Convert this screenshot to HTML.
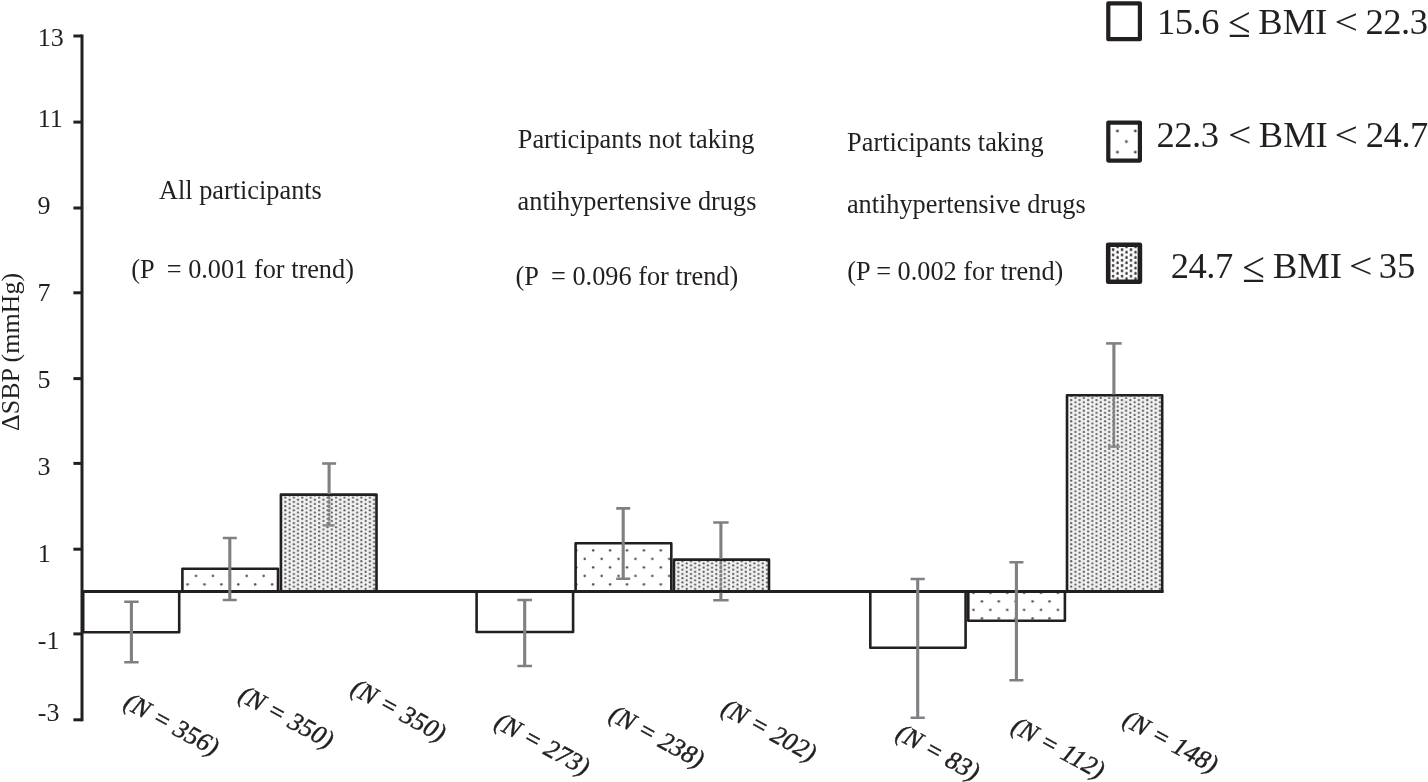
<!DOCTYPE html>
<html lang="en">
<head>
<meta charset="utf-8">
<title>ΔSBP by BMI tertile</title>
<style>
  html, body { margin: 0; padding: 0; background: #ffffff; }
  body { width: 1428px; height: 782px; overflow: hidden; }
  svg { display: block; }
  text { font-family: "Liberation Serif", "DejaVu Serif", serif; fill: #231f20; }
  .ax { font-size: 26px; }
  .lg { font-size: 36.5px; }
  .nl { font-size: 25.8px; font-style: italic; stroke: #231f20; stroke-width: 0.45px; }
  .bar { stroke: #231f20; stroke-width: 2.6; stroke-linejoin: round; }
  .eb { stroke: #7e8083; fill: none; }
  .ev { stroke-width: 3.1; }
  .ec { stroke-width: 2.6; }
  .axl { stroke: #231f20; stroke-width: 3; fill: none; }
</style>
</head>
<body>
<svg width="1428" height="782" viewBox="0 0 1428 782">
  <defs>
    <pattern id="sparse" x="183.4" y="580.15" width="16.9" height="17" patternUnits="userSpaceOnUse">
      <rect width="16.9" height="17" fill="#ffffff"/>
      <circle cx="4.2" cy="4.25" r="1.25" fill="#505052"/>
      <circle cx="12.65" cy="12.75" r="1.25" fill="#505052"/>
    </pattern>
    <pattern id="dense" x="1069.09" y="399.04" width="8.45" height="4.24" patternUnits="userSpaceOnUse">
      <rect width="8.45" height="4.24" fill="#f1f1f1"/>
      <circle cx="2.11" cy="1.06" r="1.12" fill="#5a5a5c"/>
      <circle cx="6.335" cy="3.18" r="1.12" fill="#5a5a5c"/>
    </pattern>
    <pattern id="lgdense" x="1110.865" y="253.575" width="8.94" height="5.3" patternUnits="userSpaceOnUse">
      <rect width="8.94" height="5.3" fill="#ffffff"/>
      <ellipse cx="2.235" cy="1.325" rx="1.2" ry="1.7" fill="#3a3a3c"/>
      <ellipse cx="6.705" cy="3.975" rx="1.2" ry="1.7" fill="#3a3a3c"/>
    </pattern>
    <pattern id="lgsparse" x="1108.5" y="120.4" width="17.9" height="21.2" patternUnits="userSpaceOnUse">
      <rect width="17.9" height="21.2" fill="#ffffff"/>
      <circle cx="8.95" cy="10.6" r="1.4" fill="#4a4a4c"/>
      <circle cx="0" cy="0" r="1.4" fill="#4a4a4c"/>
      <circle cx="17.9" cy="0" r="1.4" fill="#4a4a4c"/>
      <circle cx="0" cy="21.2" r="1.4" fill="#4a4a4c"/>
      <circle cx="17.9" cy="21.2" r="1.4" fill="#4a4a4c"/>
    </pattern>
  </defs>

  <rect x="0" y="0" width="1428" height="782" fill="#ffffff"/>

  <!-- bars -->
  <g class="bar">
    <!-- group 1 -->
    <rect x="83.2" y="591.5" width="96" height="40.7" fill="#ffffff"/>
    <rect x="182.4" y="568.8" width="95.6" height="22.7" fill="url(#sparse)"/>
    <rect x="280.9" y="494.6" width="95.6" height="96.9" fill="url(#dense)"/>
    <!-- group 2 -->
    <rect x="476.6" y="591.5" width="96.5" height="40.5" fill="#ffffff"/>
    <rect x="575.6" y="543.2" width="95.7" height="48.3" fill="url(#sparse)"/>
    <rect x="673.9" y="559.6" width="95.1" height="31.9" fill="url(#dense)"/>
    <!-- group 3 -->
    <rect x="870.3" y="591.5" width="95.3" height="56.3" fill="#ffffff"/>
    <rect x="968.3" y="591.5" width="96.6" height="29.3" fill="url(#sparse)"/>
    <rect x="1067" y="395.2" width="95.2" height="196.3" fill="url(#dense)"/>
  </g>

  <!-- zero line -->
  <line class="axl" x1="82" y1="591.5" x2="1163.5" y2="591.5" stroke-width="2.9"/>

  <!-- y axis -->
  <line class="axl" x1="82" y1="34.5" x2="82" y2="721.3"/>
  <g class="axl">
    <line x1="73.4" y1="36" x2="82" y2="36"/>
    <line x1="73.4" y1="122.1" x2="82" y2="122.1"/>
    <line x1="73.4" y1="208" x2="82" y2="208"/>
    <line x1="73.4" y1="292.8" x2="82" y2="292.8"/>
    <line x1="73.4" y1="378.6" x2="82" y2="378.6"/>
    <line x1="73.4" y1="463.4" x2="82" y2="463.4"/>
    <line x1="73.4" y1="549.2" x2="82" y2="549.2"/>
    <line x1="73.4" y1="633.9" x2="82" y2="633.9"/>
    <line x1="73.4" y1="719.8" x2="82" y2="719.8"/>
  </g>

  <!-- error bars -->
  <g class="eb ev">
    <path d="M131.4 601.7V662.2M229.8 538V600M329.1 463.5V494M524.7 600V666M623.2 508.4V578.8M720.9 522.5V559M720.9 592.7V600.3M917.7 579V717.8M1016.4 562.3V680.2M1113.9 343.4V394.6"/>
    <path d="M329.1 496V525.4M720.9 561V590M1113.9 396.6V446.6" stroke-dasharray="3.5 0.74" style="stroke-width:2.6px"/>
  </g>
  <g class="eb ec">
    <path d="M124.2 601.7H138.6M124.2 662.2H138.6"/>
    <path d="M222.8 538H236.8M222.8 600H236.8"/>
    <path d="M322.1 463.5H336.1"/>
    <path d="M323.6 525.4H334.6" opacity="0.85"/>
    <path d="M517.4 600H532M517.4 666H532"/>
    <path d="M616.2 508.4H630.2M616.2 578.8H630.2"/>
    <path d="M713.2 522.5H728.6M713.2 600.3H728.6"/>
    <path d="M910.6 579H924.8M910.6 717.8H924.8"/>
    <path d="M1009.4 562.3H1023.4M1009.4 680.2H1023.4"/>
    <path d="M1106.1 343.4H1121.7"/>
    <path d="M1107.9 446.6H1119.9" opacity="0.85"/>
  </g>

  <!-- y tick labels -->
  <g class="ax">
    <text x="37.8" y="46.1">13</text>
    <text x="37.8" y="127.1">11</text>
    <text x="37.6" y="213.6">9</text>
    <text x="37.6" y="301.3">7</text>
    <text x="37.6" y="388">5</text>
    <text x="37.6" y="475">3</text>
    <text x="37.8" y="562">1</text>
    <text x="37.8" y="649">-1</text>
    <text x="37.8" y="720.9">-3</text>
  </g>

  <!-- y axis title -->
  <text class="ax" transform="translate(19.4 431) rotate(-90)">ΔSBP (mmHg)</text>

  <!-- group titles -->
  <g class="ax" style="font-size:26.3px">
    <text x="159" y="199.4">All participants</text>
    <text x="131.2" y="278.2" xml:space="preserve">(P  = 0.001 for trend)</text>

    <text x="517.8" y="147.7">Participants not taking</text>
    <text x="517.6" y="210.1">antihypertensive drugs</text>
    <text x="515.5" y="285" xml:space="preserve">(P  = 0.096 for trend)</text>

    <text x="847.1" y="150.8">Participants taking</text>
    <text x="846.9" y="213.3">antihypertensive drugs</text>
    <text x="847.2" y="280.2">(P = 0.002 for trend)</text>
  </g>

  <!-- N labels -->
  <g class="nl">
    <text transform="translate(122.2 707) rotate(28.5)">(N = 356)</text>
    <text transform="translate(236.9 699.7) rotate(28.5)">(N = 350)</text>
    <text transform="translate(349.2 693.1) rotate(28.5)">(N = 350)</text>
    <text transform="translate(493 726.7) rotate(28.5)">(N = 273)</text>
    <text transform="translate(607.4 719.2) rotate(28.5)">(N = 238)</text>
    <text transform="translate(719.7 712.9) rotate(28.5)">(N = 202)</text>
    <text transform="translate(894.2 738) rotate(28.5)">(N = 83)</text>
    <text transform="translate(1009.7 731) rotate(28.5)">(N = 112)</text>
    <text transform="translate(1121.2 724.3) rotate(28.5)">(N = 148)</text>
  </g>

  <!-- legend -->
  <g stroke="#231f20" stroke-width="4.2" stroke-linejoin="round">
    <rect x="1108.3" y="3.4" width="31.6" height="35.8" fill="#ffffff"/>
    <rect x="1108.3" y="122.6" width="31.6" height="38" fill="url(#lgsparse)"/>
    <rect x="1108.2" y="244.8" width="31.7" height="37.0" stroke-width="4.6" fill="url(#lgdense)"/>
  </g>
  <g class="lg">
    <text x="1157" y="33.9" letter-spacing="-0.45">15.6</text>
    <text transform="translate(1228.1 36.8) scale(1.13 1.2)">≤</text>
    <text x="1258.3" y="33.9">BMI</text>
    <text transform="translate(1334.5 33.9) scale(1.14 1)">&lt;</text>
    <text x="1365.4" y="33.9" letter-spacing="-0.45">22.3</text>

    <text x="1156.4" y="146.7" letter-spacing="-0.45">22.3</text>
    <text transform="translate(1227.9 146.7) scale(1.14 1)">&lt;</text>
    <text x="1258.8" y="146.7">BMI</text>
    <text transform="translate(1334.5 146.7) scale(1.14 1)">&lt;</text>
    <text x="1365.8" y="146.7" letter-spacing="-0.45">24.7</text>

    <text x="1170.7" y="278.4" letter-spacing="-0.45">24.7</text>
    <text transform="translate(1242.3 281.6) scale(1.13 1.2)">≤</text>
    <text x="1272.9" y="278.4">BMI</text>
    <text transform="translate(1348.9 278.4) scale(1.14 1)">&lt;</text>
    <text x="1378.8" y="278.4">35</text>
  </g>
</svg>
</body>
</html>
